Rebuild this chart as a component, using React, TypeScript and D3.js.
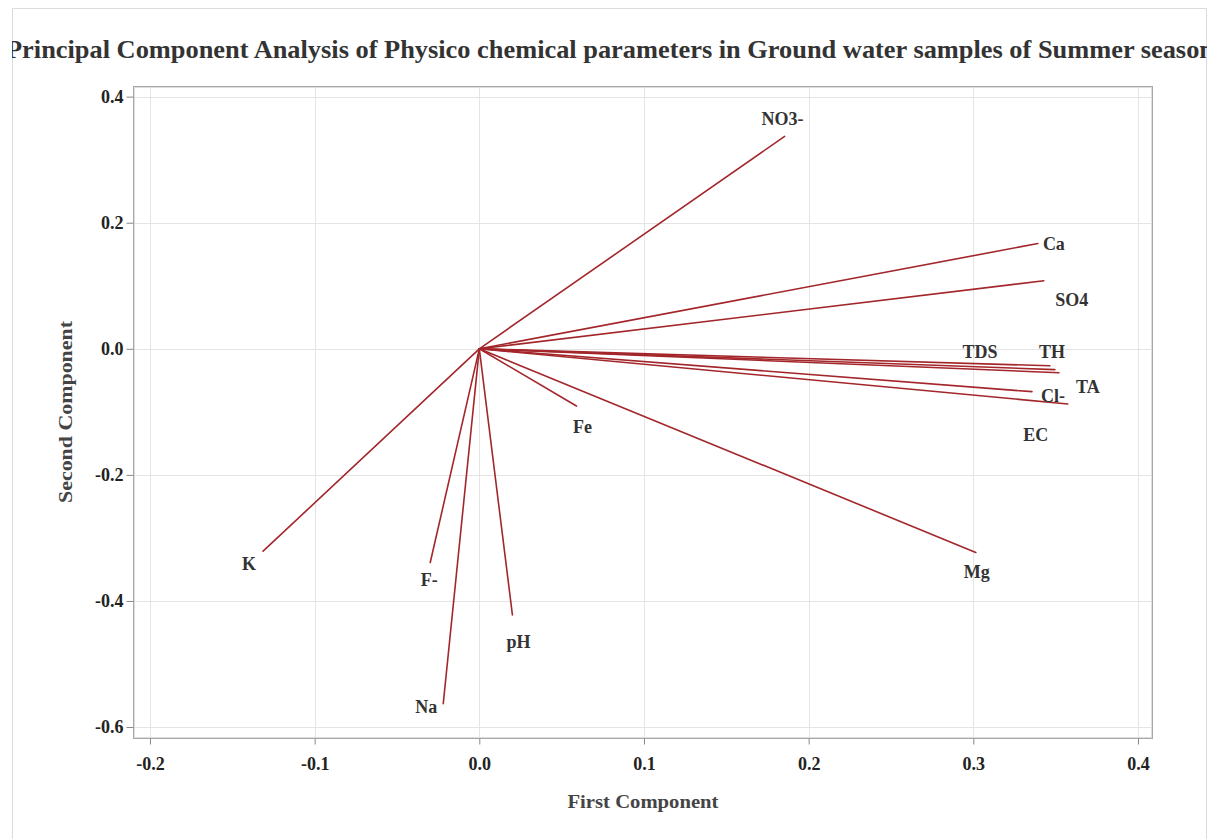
import React, { useEffect, useRef } from "react";
import * as d3 from "d3";

const width = 1217;
const height = 839;

// loadings
const params = ["NO3-", "Ca", "SO4", "TDS", "TH", "TA", "Cl-", "EC", "Fe", "Mg", "K", "F-", "Na", "pH"];
const firstComp = [0.1854, 0.3392, 0.3428, 0.3465, 0.352, 0.3495, 0.3356, 0.3574, 0.059, 0.3015, -0.1313, -0.0298, -0.0219, 0.0201];
const secondComp = [0.337, 0.167, 0.108, -0.027, -0.038, -0.033, -0.068, -0.0875, -0.0907, -0.323, -0.321, -0.339, -0.563, -0.422];

const xTicks = [-0.2, -0.1, 0.0, 0.1, 0.2, 0.3, 0.4];
const yTicks = [0.4, 0.2, 0.0, -0.2, -0.4, -0.6];

const title = "Principal Component Analysis of Physico chemical parameters in Ground water samples of Summer season";

// label nudges (px) so text does not sit on the line ends
const labelNudge: Record<string, [number, number]> = {
    "NO3-": [-2, -17], Ca: [16, 0], SO4: [28, 19], TDS: [-70, -14], TH: [-7, -21],
    TA: [33, 17], "Cl-": [21, 4], EC: [-32, 31], Fe: [6, 21], Mg: [1, 20],
    K: [-14, 13], "F-": [-1, 17], Na: [-17, 3], pH: [6, 27],
};

const frame = { left: 133, right: 1152, top: 86, bottom: 738 };
const serif = "'Liberation Serif', 'Times New Roman', serif";
const lineColor = "#a3262b";

// hyphen instead of d3's unicode minus, like the original
const fmt = (d: d3.NumberValue) => (+d).toFixed(1);

const App = () => {
    const ref = useRef<SVGSVGElement>(null);

    useEffect(() => {
        const svg = d3.select(ref.current);
        svg.selectAll("*").remove();

        const x = d3.scaleLinear([-0.2103, 0.4085], [frame.left, frame.right]);
        const y = d3.scaleLinear([-0.6174, 0.4169], [frame.bottom, frame.top]);

        // outer page border
        svg.append("rect")
            .attr("x", 12.5).attr("y", 8.5)
            .attr("width", 1194).attr("height", height)
            .attr("fill", "#fff").attr("stroke", "#dcdcdc");

        const clip = svg.append("clipPath").attr("id", "page");
        clip.append("rect").attr("x", 12).attr("y", 8).attr("width", 1195).attr("height", height);

        svg.append("text")
            .attr("clip-path", "url(#page)")
            .attr("x", 6).attr("y", 58)
            .attr("textLength", 1208)
            .attr("lengthAdjust", "spacingAndGlyphs")
            .attr("font-family", serif).attr("font-weight", "bold")
            .attr("font-size", 25).attr("fill", "#333")
            .text(title);

        // grid
        const grid = svg.append("g").attr("stroke", "#e4e4e4").attr("stroke-width", 1);
        grid.selectAll("line.v").data(xTicks).join("line")
            .attr("x1", d => Math.round(x(d)) + 0.5).attr("x2", d => Math.round(x(d)) + 0.5)
            .attr("y1", frame.top).attr("y2", frame.bottom);
        grid.selectAll("line.h").data(yTicks).join("line")
            .attr("y1", d => Math.round(y(d)) + 0.5).attr("y2", d => Math.round(y(d)) + 0.5)
            .attr("x1", frame.left).attr("x2", frame.right);

        // frame
        svg.append("rect")
            .attr("x", frame.left + 0.5).attr("y", frame.top + 0.5)
            .attr("width", frame.right - frame.left).attr("height", frame.bottom - frame.top)
            .attr("fill", "none").attr("stroke", "#a8a8a8");
        svg.append("rect")
            .attr("x", frame.left + 1.5).attr("y", frame.top + 1.5)
            .attr("width", frame.right - frame.left - 2).attr("height", frame.bottom - frame.top - 2)
            .attr("fill", "none").attr("stroke", "#dedede");

        const xAxis = d3.axisBottom(x).tickValues(xTicks).tickFormat(fmt).tickSizeOuter(0).tickSize(6).tickPadding(10);
        const yAxis = d3.axisLeft(y).tickValues(yTicks).tickFormat(fmt).tickSizeOuter(0).tickSize(7).tickPadding(3);

        const gx = svg.append("g").attr("transform", `translate(0, ${frame.bottom + 0.5})`).call(xAxis);
        const gy = svg.append("g").attr("transform", `translate(${frame.left + 0.5}, 0)`).call(yAxis);
        [gx, gy].forEach(g => {
            g.select(".domain").remove();
            g.selectAll("line").attr("stroke", "#888");
            g.selectAll("text")
                .attr("font-family", serif).attr("font-weight", "bold")
                .attr("font-size", 18).attr("fill", "#222");
        });
        gx.selectAll("text").attr("dy", "0.85em");

        svg.append("text")
            .attr("x", (frame.left + frame.right) / 2 + 0.5).attr("y", 808)
            .attr("text-anchor", "middle")
            .attr("textLength", 151).attr("lengthAdjust", "spacingAndGlyphs")
            .attr("font-family", serif).attr("font-weight", "bold")
            .attr("font-size", 19).attr("fill", "#444")
            .text("First Component");

        svg.append("text")
            .attr("transform", `translate(72, ${(frame.top + frame.bottom) / 2}) rotate(-90)`)
            .attr("text-anchor", "middle")
            .attr("textLength", 182).attr("lengthAdjust", "spacingAndGlyphs")
            .attr("font-family", serif).attr("font-weight", "bold")
            .attr("font-size", 19).attr("fill", "#444")
            .text("Second Component");

        const data = params.map((p, i) => ({ name: p, pc1: firstComp[i], pc2: secondComp[i] }));

        svg.append("g")
            .selectAll("line")
            .data(data)
            .join("line")
            .attr("x1", x(0)).attr("y1", y(0))
            .attr("x2", d => x(d.pc1)).attr("y2", d => y(d.pc2))
            .attr("stroke", lineColor)
            .attr("stroke-width", 1.6)
            .attr("stroke-linecap", "round");

        svg.append("g")
            .selectAll("text")
            .data(data)
            .join("text")
            .attr("x", d => x(d.pc1) + labelNudge[d.name][0])
            .attr("y", d => y(d.pc2) + labelNudge[d.name][1])
            .attr("text-anchor", "middle")
            .attr("dominant-baseline", "central")
            .attr("font-family", serif).attr("font-weight", "bold")
            .attr("font-size", 18).attr("fill", "#333")
            .text(d => d.name);
    }, []);

    return (
        <div>
            <svg ref={ref} width={width} height={height} style={{ position: "absolute", left: 0, top: 0, background: "#fff" }} />
        </div>
    );
};

export default App;
